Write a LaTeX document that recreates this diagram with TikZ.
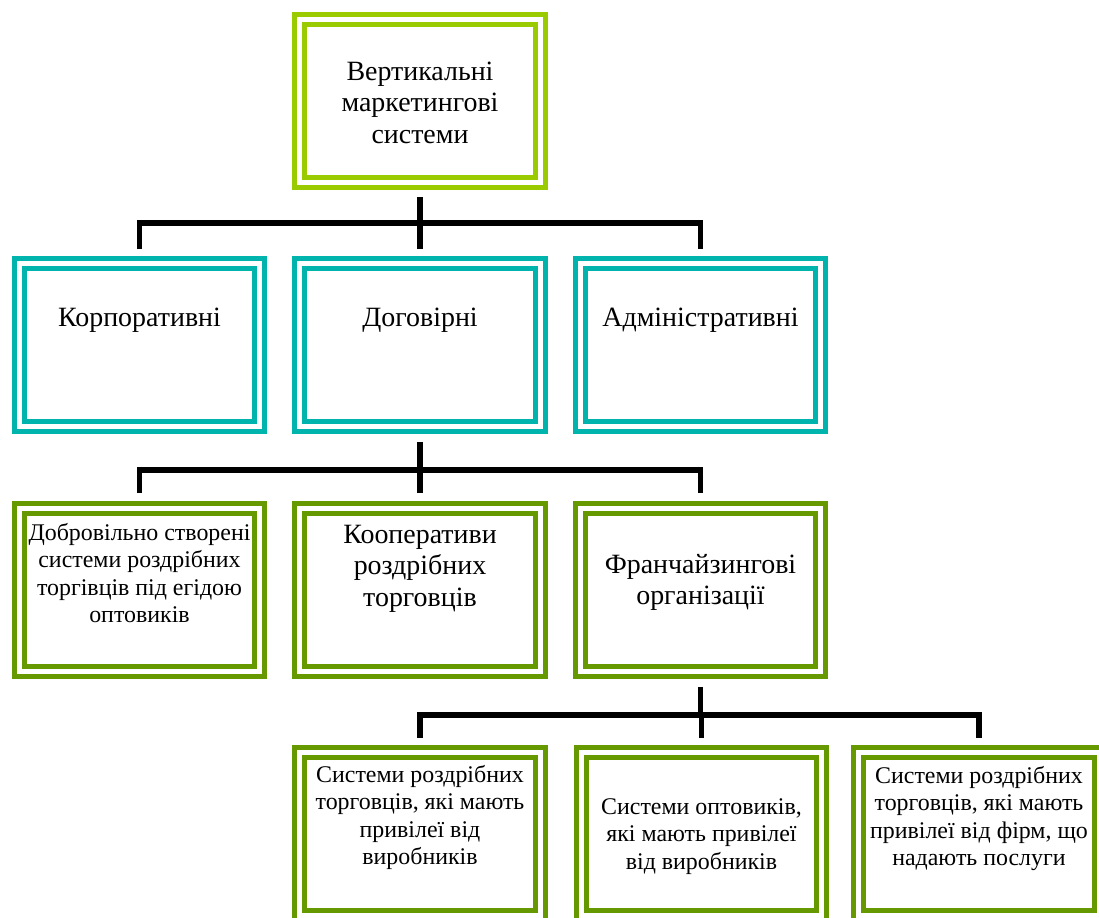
\documentclass[tikz,border=0pt]{standalone}
\usepackage{fontspec}
\setmainfont{Liberation Serif}
\usetikzlibrary{calc}

\definecolor{topgreen}{RGB}{154,202,0}
\definecolor{tealline}{RGB}{0,180,174}
\definecolor{olive}{RGB}{102,153,0}

% text of a box: first baseline #1 below the top, lines top aligned
\newcommand{\boxtext}[2]{\parbox[c][3.26cm][t]{4.82cm}{\centering\rule{0pt}{#1}%
    \makebox[0pt]{\begin{tabular}[t]{@{}c@{}}#2\end{tabular}}}}

\tikzset{
    vmsbox/.style={draw=#1, double=white, double distance=0.1cm, line width=0.1cm,
        inner sep=0pt, font=\fontsize{15.9}{18.2}\selectfont},
    smalltext/.style={font=\fontsize{13.6}{15.7}\selectfont},
    link/.style={line width=0.11cm}
}

\begin{document}
\begin{tikzpicture}[x=0.02cm, y=-0.02cm]
        \useasboundingbox (0,0) rectangle (1099,917);
        \clip (0,0) rectangle (1099,917);

        % Top box
        \node[vmsbox=topgreen] (vms) at (420,101) {\boxtext{1.21cm}{Вертикальні\\маркетингові\\системи}};

        % Second row
        \node[vmsbox=tealline] (corp) at (139.5,345) {\boxtext{1.25cm}{Корпоративні}};
        \node[vmsbox=tealline] (contr) at (420,345) {\boxtext{1.25cm}{Договірні}};
        \node[vmsbox=tealline] (admin) at (700.5,345) {\boxtext{1.25cm}{Адміністративні}};

        % Third row
        \node[vmsbox=olive, smalltext] (volun) at (139.5,590) {\boxtext{0.63cm}{Добровільно створені\\системи роздрібних\\торгівців під егідою\\оптовиків}};
        \node[vmsbox=olive] (coop) at (420,590) {\boxtext{0.69cm}{Кооперативи\\роздрібних\\торговців}};
        \node[vmsbox=olive] (franch) at (700.5,590) {\boxtext{1.29cm}{Франчайзингові\\організації}};

        % Bottom row
        \node[vmsbox=olive, smalltext] (retail) at (420,834) {\boxtext{0.59cm}{Системи роздрібних\\торговців, які мають\\привілеї від\\виробників}};
        \node[vmsbox=olive, smalltext] (whole) at (701.5,834) {\boxtext{1.23cm}{Системи оптовиків,\\які мають привілеї\\від виробників}};
        \node[vmsbox=olive, smalltext] (service) at (979,834) {\boxtext{0.61cm}{Системи роздрібних\\торговців, які мають\\привілеї від фірм, що\\надають послуги}};

        % Connections
        \draw[link] ($(vms.south)+(0,12)$) -- ++(0,26) coordinate (bus1);
        \draw[link] ($(corp.north)+(0,-12)$) |- (bus1) -| ($(admin.north)+(0,-12)$);
        \draw[link] ($(contr.north)+(0,-12)$) -- (contr.north |- bus1);

        \draw[link] ($(contr.south)+(0,13)$) -- ++(0,28) coordinate (bus2);
        \draw[link] ($(volun.north)+(0,-13)$) |- (bus2) -| ($(franch.north)+(0,-13)$);
        \draw[link] ($(coop.north)+(0,-13)$) -- (coop.north |- bus2);

        \draw[link] ($(franch.south)+(0,13)$) -- ++(0,28) coordinate (bus3);
        \draw[link] ($(retail.north)+(0,-12)$) |- (bus3) -| ($(service.north)+(0,-12)$);
        \draw[link] ($(whole.north)+(0,-12)$) -- (whole.north |- bus3);
    \end{tikzpicture}
\end{document}
